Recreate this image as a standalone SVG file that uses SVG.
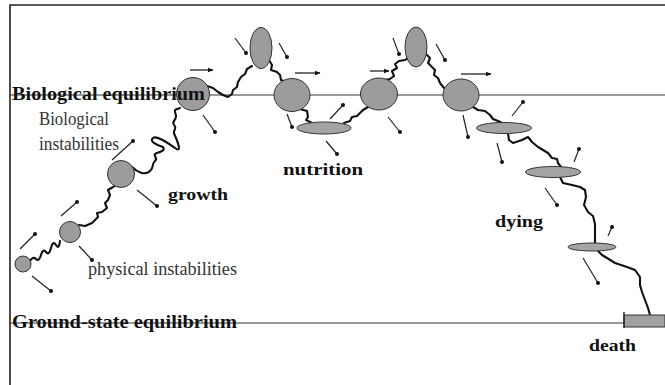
<svg xmlns="http://www.w3.org/2000/svg" width="665" height="385" viewBox="0 0 665 385">
<defs>
<marker id="ah" viewBox="0 0 10 10" refX="9" refY="5" markerWidth="6" markerHeight="6" markerUnits="userSpaceOnUse" orient="auto">
<path d="M0,1 L10,5 L0,9 Z" fill="#111"/>
</marker>
<marker id="dot" viewBox="0 0 10 10" refX="5" refY="5" markerWidth="4" markerHeight="4" markerUnits="userSpaceOnUse">
<circle cx="5" cy="5" r="5" fill="#111"/>
</marker>
</defs>
<style>
.frame{stroke:#222;stroke-width:1.6;fill:none}
.eq{stroke:#333;stroke-width:1.2;fill:none}
.wave{stroke:#111;stroke-width:2.1;fill:none;stroke-linejoin:round;stroke-linecap:round}
.node{fill:#9c9c9c;stroke:#333;stroke-width:1}
.flat{fill:#a4a4a4;stroke:#333;stroke-width:1}
.pt{stroke:#222;stroke-width:1.2;fill:none;marker-end:url(#dot)}
.arr{stroke:#222;stroke-width:1.3;fill:none;marker-end:url(#ah)}
.bold{font-family:"Liberation Serif",serif;font-weight:bold;fill:#111}
.reg{font-family:"Liberation Serif",serif;fill:#333}
</style>
<rect width="665" height="385" fill="#fff"/>
<g id="frame">
<path class="frame" d="M10,385 L10,5 L665,5"/>
<line class="eq" x1="10" y1="95" x2="665" y2="95"/>
<line class="eq" x1="10" y1="323" x2="624" y2="323"/>
</g>
<g id="connectors">
<path class="wave" d="M30,261 q3,-5 6,-2 t5,-4 t5,-3 t5,-4 t5,-3 t4,-4"/>
<polyline class="wave" points="79,225 85,226 92,223 95,220 98,217 97,213 102,212 107,208 105,203 108,200 110,195 108,190 113,187 116,185"/>
<path class="wave" d="M132,167 C137,172 145,176 150,171 S151,164 155,161 S151,155 157,153 S165,150 163,147 C156,145 149,141 153,138 C157,135 168,143 175,148 S178,143 176,138 S173,133 175,129 S171,125 174,121 S176,115 175,112 S178,109 180,108"/>
<polyline class="wave" points="207,86 213,88 218,92 223,95 228,97 232,94 233,90 237,87 238,82 241,77 245,74 247,69 252,66"/>
<polyline class="wave" points="269,60 272,65 271,70 277,72 280,75 281,80 286,82"/>
<polyline class="wave" points="300,109 307,111 308,117 306,120 312,123"/>
<polyline class="wave" points="344,123 350,121 352,117 357,116 360,113 363,110 368,107"/>
<polyline class="wave" points="385,80 390,79 394,76 392,71 397,68 395,64 399,61 405,60 408,58"/>
<polyline class="wave" points="426,54 430,58 428,63 432,67 435,70 434,75 438,78 440,83 444,88"/>
<polyline class="wave" points="473,107 478,110 485,111 490,115 493,119 498,121 502,123"/>
<polyline class="wave" points="508,133 509,140 513,143 522,140 528,137 532,142 538,147 543,150 548,153 552,158 557,159 558,163 561,167"/>
<polyline class="wave" points="560,177 563,183 572,185 580,187 585,190 586,197 584,205 588,212 593,216 595,224 595,235 595,243"/>
<polyline class="wave" points="598,251 602,255 607,258 615,263 627,267 635,270 640,277 640,285 642,292 645,300 648,308 650,315 651,318"/>
<line class="pt" x1="20" y1="249" x2="35" y2="234"/>
<line class="pt" x1="32" y1="276" x2="51" y2="291"/>
<line class="pt" x1="61" y1="216" x2="77" y2="202"/>
<line class="pt" x1="79" y1="246" x2="92" y2="260"/>
<line class="pt" x1="112" y1="160" x2="133" y2="141"/>
<line class="pt" x1="137" y1="190" x2="157" y2="206"/>
<line class="pt" x1="203" y1="115" x2="215" y2="132"/>
<line class="pt" x1="235" y1="38" x2="246" y2="53"/>
<line class="pt" x1="279" y1="43" x2="287" y2="57"/>
<line class="pt" x1="287" y1="114" x2="292" y2="127"/>
<line class="pt" x1="330" y1="119" x2="343" y2="105"/>
<line class="pt" x1="326" y1="141" x2="337" y2="154"/>
<line class="pt" x1="393" y1="38" x2="399" y2="54"/>
<line class="pt" x1="388" y1="117" x2="400" y2="132"/>
<line class="pt" x1="436" y1="44" x2="445" y2="60"/>
<line class="pt" x1="463" y1="115" x2="468" y2="137"/>
<line class="pt" x1="512" y1="116" x2="523" y2="102"/>
<line class="pt" x1="497" y1="143" x2="502" y2="162"/>
<line class="pt" x1="574" y1="162" x2="579" y2="149"/>
<line class="pt" x1="545" y1="188" x2="557" y2="205"/>
<line class="pt" x1="608" y1="236" x2="612" y2="227"/>
<line class="pt" x1="583" y1="258" x2="598" y2="283"/>
<line class="arr" x1="190" y1="70" x2="213" y2="70"/>
<line class="arr" x1="295" y1="73" x2="320" y2="73"/>
<line class="arr" x1="370" y1="71" x2="389" y2="71"/>
<line class="arr" x1="461" y1="74" x2="491" y2="74"/>
</g>
<g id="n1"><circle class="node" cx="23" cy="264" r="8"/></g>
<g id="n2"><circle class="node" cx="70" cy="232" r="10.5"/></g>
<g id="n3"><circle class="node" cx="121" cy="174" r="13.5"/></g>
<g id="n4"><circle class="node" cx="193" cy="94" r="16.5"/></g>
<g id="n5"><ellipse class="node" cx="261" cy="48" rx="11" ry="20.5"/></g>
<g id="n6"><ellipse class="node" cx="292" cy="95" rx="18" ry="16.5"/></g>
<g id="n7"><ellipse class="flat" cx="324" cy="128" rx="27" ry="6"/></g>
<g id="n8"><ellipse class="node" cx="379" cy="94" rx="18.5" ry="16"/></g>
<g id="n9"><ellipse class="node" cx="416" cy="47" rx="11" ry="20"/></g>
<g id="n10"><ellipse class="node" cx="461" cy="95" rx="18" ry="16"/></g>
<g id="n11"><ellipse class="flat" cx="504" cy="128" rx="27.5" ry="5.5"/></g>
<g id="n12"><ellipse class="flat" cx="553" cy="172" rx="27.5" ry="5.5"/></g>
<g id="n13"><ellipse class="flat" cx="592" cy="247" rx="24" ry="4"/></g>
<g id="n14"><rect x="624" y="315" width="41" height="12" fill="#a0a0a0" stroke="#333" stroke-width="1"/><line x1="624" y1="312" x2="624" y2="328" stroke="#222" stroke-width="1.4"/></g>
<g id="labels">
<text class="bold" x="12" y="100" font-size="18" textLength="193" lengthAdjust="spacingAndGlyphs">Biological equilibrium</text>
<text class="bold" x="12" y="328" font-size="18" textLength="225" lengthAdjust="spacingAndGlyphs">Ground-state equilibrium</text>
<text class="reg" x="39" y="125" font-size="18" textLength="70" lengthAdjust="spacingAndGlyphs">Biological</text>
<text class="reg" x="39" y="150" font-size="18" textLength="80" lengthAdjust="spacingAndGlyphs">instabilities</text>
<text class="reg" x="88" y="275" font-size="18" textLength="149" lengthAdjust="spacingAndGlyphs">physical instabilities</text>
<text class="bold" x="168" y="200" font-size="17" textLength="60" lengthAdjust="spacingAndGlyphs">growth</text>
<text class="bold" x="283" y="175" font-size="17" textLength="80" lengthAdjust="spacingAndGlyphs">nutrition</text>
<text class="bold" x="495" y="227" font-size="17" textLength="48" lengthAdjust="spacingAndGlyphs">dying</text>
<text class="bold" x="589" y="351" font-size="17" textLength="47" lengthAdjust="spacingAndGlyphs">death</text>
</g>
</svg>
